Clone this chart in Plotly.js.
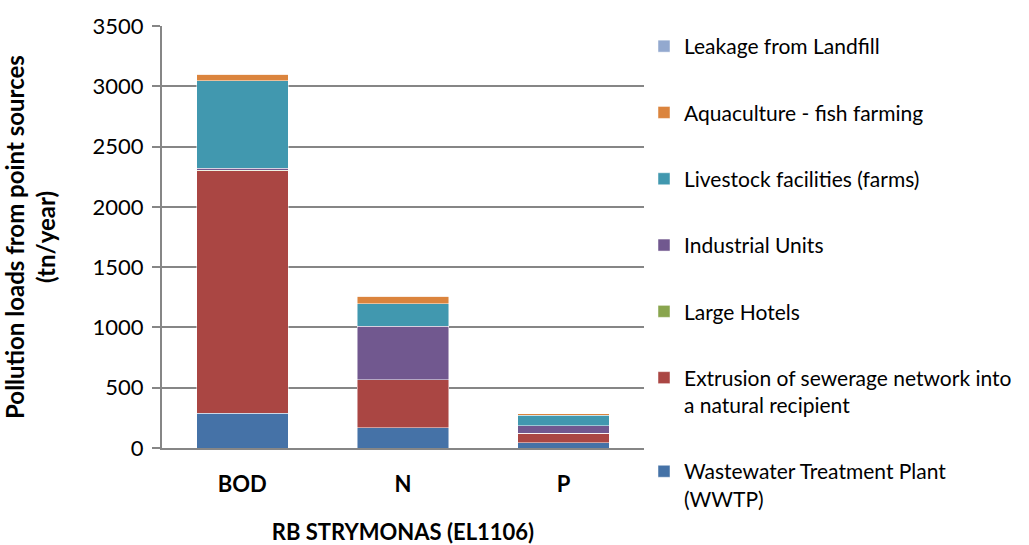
<!DOCTYPE html>
<html>
<head>
<meta charset="utf-8">
<script src="https://cdn.plot.ly/plotly-3.0.1.min.js"></script>
<style>
  html, body { margin: 0; padding: 0; background: #fff; }
  #plot { width: 1029px; height: 545px; }
</style>
</head>
<body>
<div id="plot"></div>
<script>
// categories and series (tn/year)
var categories = ['BOD', 'N', 'P'];
var seriesNames = [
    'Wastewater Treatment Plant<br>(WWTP)',
    'Extrusion of sewerage network into<br>a natural recipient',
    'Large Hotels',
    'Industrial Units',
    'Livestock facilities (farms)',
    'Aquaculture - fish farming',
    'Leakage from Landfill'
];
var wwtp = [290, 166, 44];
var extrusion = [2010, 400, 80];
var hotels = [3, 1, 0.3];
var industrial = [18, 442, 61];
var livestock = [727, 187, 85];
var aquaculture = [50, 64, 14];
var landfill = [3, 0.5, 0.2];

var colors = ['#4572A7', '#AA4643', '#89A54E', '#71588F', '#4198AF', '#DB843D', '#93A9CF'];
var values = [wwtp, extrusion, hotels, industrial, livestock, aquaculture, landfill];

var font = 'Lato, "Open Sans", sans-serif';

var traces = [];
for (var i = 0; i < values.length; i++) {
    traces.push({
        name: seriesNames[i],
        x: categories,
        y: values[i],
        type: 'bar',
        legendgroup: 'g' + i,
        legendrank: 100 - i,   // top of stack first in legend
        marker: {
            color: colors[i],
            line: { color: 'rgba(255,255,255,0.6)', width: 0.8 }
        },
        hoverinfo: 'skip'
    });
}

var layout = {
    width: 1029,
    height: 545,
    barmode: 'stack',
    bargap: 0.43,
    paper_bgcolor: '#fff',
    plot_bgcolor: '#fff',
    margin: { l: 162, r: 385, t: 26, b: 97 },
    font: { family: font, size: 22, color: '#000' },
    showlegend: true,
    legend: {
        traceorder: 'grouped',
        tracegroupgap: 36,
        x: 1.0,
        xanchor: 'left',
        y: 1,
        yanchor: 'top',
        valign: 'top',
        maxheight: 545,
        bgcolor: 'rgba(0,0,0,0)',
        font: { family: font, size: 21, color: '#000' },
        itemwidth: 30
    },
    xaxis: {
        type: 'category',
        showline: true,
        linecolor: '#868686',
        linewidth: 2,
        ticks: '',
        ticklabelstandoff: 16,
        tickfont: { family: font, size: 22, weight: 'bold' },
        title: {
            text: 'RB STRYMONAS (EL1106)',
            font: { family: font, size: 22, weight: 'bold' },
            standoff: 28
        }
    },
    yaxis: {
        range: [0, 3500],
        dtick: 500,
        showline: true,
        linecolor: '#868686',
        linewidth: 2,
        ticks: 'outside',
        tickcolor: '#868686',
        ticklen: 8,
        tickwidth: 2,
        ticklabelstandoff: 4,
        showgrid: true,
        gridcolor: '#868686',
        gridwidth: 2,
        zeroline: false,
        tickfont: { family: font, size: 22 },
        title: {
            text: 'Pollution loads from point sources<br>(tn/year)',
            font: { family: font, size: 24, weight: 'bold' },
            standoff: 30
        }
    }
};

Plotly.newPlot(document.getElementById('plot'), traces, layout, { displayModeBar: false, staticPlot: true });
</script>
</body>
</html>
